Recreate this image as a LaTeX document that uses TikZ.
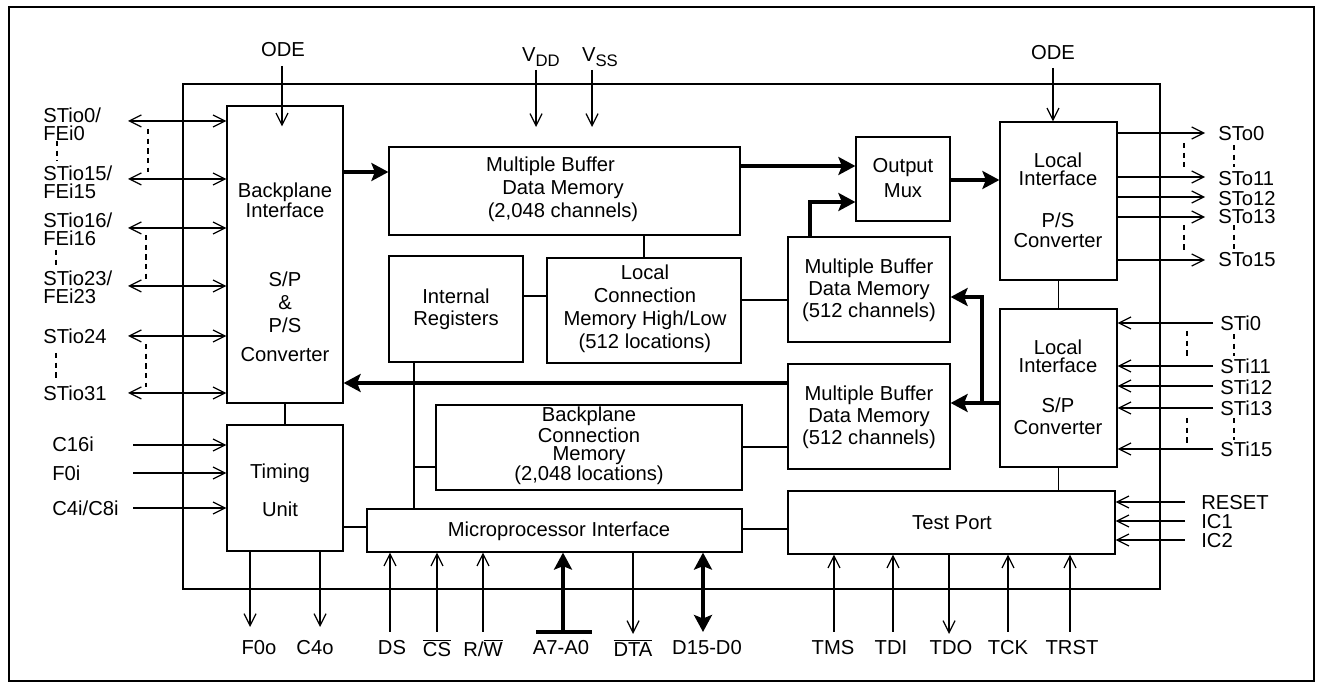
\documentclass[tikz,border=0pt]{standalone}
\usepackage{fontspec}
\setmainfont{Liberation Sans}
\usetikzlibrary{arrows.meta,fit,calc}
\newcommand\fsz[1]{\fontsize{11.5}{#1}\selectfont}
\tikzset{
  thinln/.style={line width=0.7pt},
  blk/.style={draw, line width=0.7pt, inner sep=0pt},
  lbl/.style={inner sep=0pt, align=center, font=\fsz{13pt}},
  lw/.style={lbl, anchor=west, align=left},
  oarr/.style={thinln, -{Straight Barb[length=0.24cm,width=0.24cm]}},
  barr/.style={thinln, {Straight Barb[length=0.24cm,width=0.24cm]}-{Straight Barb[length=0.24cm,width=0.24cm]}},
  tarr/.style={line width=2.6pt, -{Stealth[length=0.34cm,width=0.36cm,inset=0.07cm]}},
  tdarr/.style={line width=2.6pt, {Stealth[length=0.34cm,width=0.36cm,inset=0.07cm]}-{Stealth[length=0.34cm,width=0.36cm,inset=0.07cm]}},
  thk/.style={line width=2.6pt},
  dsh/.style={thinln, dash pattern=on 3pt off 2.5pt},
}
\begin{document}
\begin{tikzpicture}[x=0.02cm,y=-0.02cm]
\useasboundingbox (0,0) rectangle (1319,685);
% frames
\node[blk, line width=1.1pt, fit={(9,7)(1314,681)}] (frame) {};
\node[blk, fit={(183,84)(1160,589)}] (chip) {};
% blocks
\node[blk, fit={(227,106)(343,403)}] (bp) {};
\node[lbl, font=\fsz{11.3pt}] at (285,200) {Backplane\\Interface};
\node[lbl, font=\fsz{13pt}] at (285,302) {S/P\\\&\\P/S};
\node[lbl] at (285,355) {Converter};
\node[blk, fit={(227,425)(343,551)}] (tu) {};
\node[lbl] at (280,473) {Timing};
\node[lbl] at (280,509) {Unit};
\node[blk, fit={(389,147)(740,235)}] (mb2) {};
\node[lbl, font=\fsz{13pt}] at (563,189) {Multiple Buffer\hspace*{0.5cm}\\Data Memory\\(2,048 channels)};
\node[blk, fit={(856,137)(950,221)}] (om) {};
\node[lbl, font=\fsz{14pt}] at (903,178) {Output\\Mux};
\node[blk, fit={(1000,122)(1117,280)}] (lips) {};
\node[lbl, font=\fsz{10.2pt}] at (1058,169) {Local\\Interface};
\node[lbl, font=\fsz{11.3pt}] at (1058,230) {P/S\\Converter};
\node[blk, fit={(1000,309)(1117,467)}] (lisp) {};
\node[lbl, font=\fsz{10.2pt}] at (1058,356) {Local\\Interface};
\node[lbl, font=\fsz{12.4pt}] at (1058,416) {S/P\\Converter};
\node[blk, fit={(788,237)(950,342)}] (mba) {};
\node[lbl, font=\fsz{12.4pt}] at (869,290) {Multiple Buffer\\Data Memory\\(512 channels)};
\node[blk, fit={(788,364)(950,469)}] (mbb) {};
\node[lbl, font=\fsz{12.4pt}] at (869,417) {Multiple Buffer\\Data Memory\\(512 channels)};
\node[blk, fit={(389,256)(523,362)}] (ir) {};
\node[lbl, font=\fsz{12.4pt}] at (456,309) {Internal\\Registers};
\node[blk, fit={(547,258)(741,363)}] (lcm) {};
\node[lbl, font=\fsz{13pt}] at (645,309) {Local\\Connection\\Memory High/Low\\(512 locations)};
\node[blk, fit={(436,405)(742,490)}] (bcm) {};
\node[lbl, font=\fsz{10.2pt}] at (589,446) {Backplane\\Connection\\Memory\\(2,048 locations)};
\node[blk, fit={(367,509)(742,552)}] (mpi) {};
\node[lbl] at (559,531) {Microprocessor Interface};
\node[blk, fit={(788,491)(1115,554)}] (tp) {};
\node[lbl] at (952,523) {Test Port};

% ODE left
\node[lbl] (odeLt) at (283,50) {ODE};
\coordinate (odeL) at (282,66);
\draw[oarr] (odeL) -- ($(odeL |- bp.north)+(0,21)$);
% left bidirectional STio
\foreach \y/\n in {121/a0,179/a1,228/a2,286/a3,336/a4,393/a5}{
  \coordinate (\n) at (128,\y);
  \draw[barr] (\n) -- (\n -| bp.west);
}
\draw[dsh] (148,129) -- (148,172);
\draw[dsh] (146,235) -- (146,280);
\draw[dsh] (146,344) -- (146,387);
\draw[dsh] (57,141) -- (57,161);
\draw[dsh] (56,250) -- (56,268);
\draw[dsh] (56,353) -- (56,378);
\node[lw, font=\fsz{10.2pt}] at (43,124) {STio0/\\FEi0};
\node[lw, font=\fsz{10.2pt}] at (43,182) {STio15/\\FEi15};
\node[lw, font=\fsz{10.2pt}] at (43,229) {STio16/\\FEi16};
\node[lw, font=\fsz{10.2pt}] at (43,287) {STio23/\\FEi23};
\node[lw] at (43,336) {STio24};
\node[lw] at (43,393) {STio31};
% timing inputs
\foreach \y/\n in {445/c0,473/c1,508/c2}{
  \coordinate (\n) at (133,\y);
  \draw[oarr] (\n) -- (\n -| tu.west);
}
\node[lw] at (52,444) {C16i};
\node[lw] at (52,473) {F0i};
\node[lw] at (52,508) {C4i/C8i};
% timing outputs
\coordinate (f0o) at (250,627);
\coordinate (c4o) at (320,627);
\draw[oarr] (f0o |- tu.south) -- (f0o);
\draw[oarr] (c4o |- tu.south) -- (c4o);
\node[lbl] at (259,648) {F0o};
\node[lbl] at (315,648) {C4o};
% power
\coordinate (vdd0) at (536,70); \coordinate (vdd1) at (536,127);
\coordinate (vss0) at (592,70); \coordinate (vss1) at (592,127);
\draw[oarr] (vdd0) -- (vdd1);
\draw[oarr] (vss0) -- (vss1);
\node[lbl] at (541,57) {V\raisebox{-0.45ex}{\fontsize{9.5}{9.5}\selectfont DD}};
\node[lbl] at (600,57) {V\raisebox{-0.45ex}{\fontsize{9.5}{9.5}\selectfont SS}};
% thick data paths
\coordinate (t1) at (0,172);
\draw[tarr] (bp.east |- t1) -- (mb2.west |- t1);
\coordinate (t2) at (0,166);
\draw[tarr] (mb2.east |- t2) -- (om.west |- t2);
\coordinate (t3) at (810,202);
\draw[tarr] (t3 |- mba.north) -- (t3) -- (om.west |- t3);
\coordinate (t5) at (0,180);
\draw[tarr] (om.east |- t5) -- (lips.west |- t5);
\coordinate (j1) at (982,297);
\coordinate (t6) at (0,403);
\draw[tarr] (lisp.west |- t6) -- (mbb.east |- t6);
\draw[tarr] (j1 |- t6) -- (j1) -- (mba.east |- j1);
\coordinate (t8) at (0,383);
\draw[tarr] (mbb.west |- t8) -- (bp.east |- t8);
% right ODE
\node[lbl] at (1053,53) {ODE};
\coordinate (odeR) at (1053,68);
\draw[oarr] (odeR) -- (odeR |- lips.north);
% STo outputs
\foreach \y/\n in {133/o0,177/o1,197/o2,217/o3,260/o4}{
  \coordinate (\n) at (1205,\y);
  \draw[oarr] (\n -| lips.east) -- (\n);
}
\node[lw] at (1218,134) {STo0};
\node[lw] at (1218,179) {STo11};
\node[lw] at (1218,199) {STo12};
\node[lw] at (1218,217) {STo13};
\node[lw] at (1218,260) {STo15};
\draw[dsh] (1184,143) -- (1184,167);
\draw[dsh] (1184,225) -- (1184,250);
\draw[dsh] (1234,145) -- (1234,167);
\draw[dsh] (1234,225) -- (1234,249);
% links
\draw[thinln] (lips.south) -- (lisp.north);
\draw[thinln] (lisp.south) -- (lisp.south |- tp.north);
% STi inputs
\foreach \y/\n in {323/i0,366/i1,386/i2,408/i3,449/i4}{
  \coordinate (\n) at (1213,\y);
  \draw[oarr] (\n) -- (\n -| lisp.east);
}
\node[lw] at (1220,323) {STi0};
\node[lw] at (1220,366) {STi11};
\node[lw] at (1220,387) {STi12};
\node[lw] at (1220,408) {STi13};
\node[lw] at (1220,449) {STi15};
\draw[dsh] (1187,331) -- (1187,358);
\draw[dsh] (1187,418) -- (1187,443);
\draw[dsh] (1234,334) -- (1234,356);
\draw[dsh] (1234,418) -- (1234,440);
% RESET IC1 IC2
\foreach \y/\n in {502/r0,521/r1,540/r2}{
  \coordinate (\n) at (1185,\y);
  \draw[oarr] (\n) -- (\n -| tp.east);
}
\node[lw] at (1201,503) {RESET};
\node[lw] at (1201,522) {IC1};
\node[lw] at (1201,541) {IC2};
% test port pins
\foreach \x/\n in {834/p0,893/p1,1008/p3,1070/p4}{
  \coordinate (\n) at (\x,632);
  \draw[oarr] (\n) -- (\n |- tp.south);
}
\coordinate (p2) at (949,634);
\draw[oarr] (p2 |- tp.south) -- (p2);
\node[lbl] at (833,648) {TMS};
\node[lbl] at (891,648) {TDI};
\node[lbl] at (951,648) {TDO};
\node[lbl] at (1008,648) {TCK};
\node[lbl] at (1072,648) {TRST};
% microprocessor pins
\foreach \x/\n in {390/m0,437/m1,483/m2}{
  \coordinate (\n) at (\x,632);
  \draw[oarr] (\n) -- (\n |- mpi.south);
}
\coordinate (m3) at (563,632);
\coordinate (m3a) at (536,632);
\coordinate (m3b) at (592,632);
\draw[thk] (m3a) -- (m3b);
\draw[tarr] (m3) -- (m3 |- mpi.south);
\coordinate (m4) at (633,634);
\draw[oarr] (m4 |- mpi.south) -- (m4);
\coordinate (m5) at (703,632);
\draw[tdarr] (m5) -- (m5 |- mpi.south);
\node[lbl] at (392,648) {DS};
\node[lbl] at (437,648) {$\overline{\hbox{CS}}$};
\node[lbl] at (483,648) {R/$\overline{\hbox{W}}$};
\node[lbl] at (561,648) {A7-A0};
\node[lbl] at (633,648) {$\overline{\hbox{DTA}}$};
\node[lbl] at (707,648) {D15-D0};
% internal links
\draw[thinln] (bp.south) -- (tu.north);
\draw[thinln] (lcm.north |- mb2.south) -- (lcm.north);
\coordinate (t9) at (0,296);
\draw[thinln] (ir.east |- t9) -- (lcm.west |- t9);
\coordinate (t10) at (0,300);
\draw[thinln] (lcm.east |- t10) -- (mba.west |- t10);
\coordinate (t12) at (0,447);
\draw[thinln] (bcm.east |- t12) -- (mbb.west |- t12);
\coordinate (t13) at (0,527);
\draw[thinln] (tu.east |- t13) -- (mpi.west |- t13);
\coordinate (t14) at (0,529);
\draw[thinln] (mpi.east |- t14) -- (tp.west |- t14);
\coordinate (v1) at (414,467);
\draw[thinln] (v1 |- ir.south) -- (v1 |- mpi.north);
\draw[thinln] (v1) -- (bcm.west |- v1);
\end{tikzpicture}
\end{document}
